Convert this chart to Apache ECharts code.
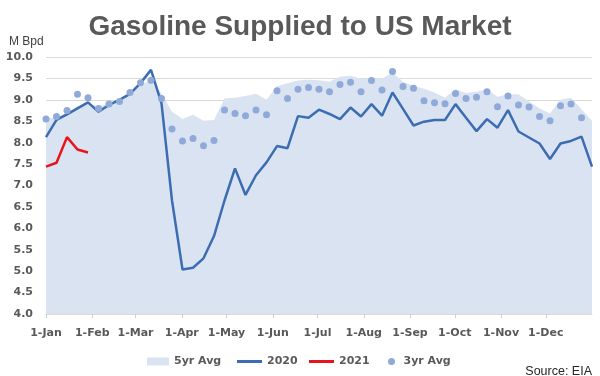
<!DOCTYPE html>
<html>

<head>
	<meta charset="UTF-8">
	<title>Gasoline Supplied to US Market</title>
	<style>
		html, body { margin: 0; padding: 0; background: #fff; }
		#main { width: 600px; height: 376px; }
	</style>
</head>

<body>
	<div id="main"></div>
	<script src="https://cdn.jsdelivr.net/npm/echarts/dist/echarts.min.js"></script>
	<script type="text/javascript">
		// weekly values, M Bpd
		var fiveYrAvg = [8.55, 8.60, 8.70, 8.85, 8.90, 8.85, 8.90, 9.00, 9.15, 9.35,
			9.45, 9.15, 8.72, 8.55, 8.65, 8.51, 8.53, 9.03, 9.05, 9.09,
			9.14, 9.00, 9.32, 9.39, 9.45, 9.47, 9.46, 9.42, 9.54, 9.56,
			9.49, 9.50, 9.49, 9.64, 9.42, 9.33, 9.26, 9.17, 9.05, 9.25,
			9.16, 9.19, 9.25, 9.07, 9.13, 9.13, 8.96, 8.80, 8.68, 9.00,
			9.05, 8.78, 8.51];
		var y2020 = [8.13, 8.53, 8.66, 8.80, 8.94, 8.72, 8.88, 9.00, 9.14, 9.39,
			9.70, 8.92, 6.65, 5.04, 5.08, 5.30, 5.82, 6.65, 7.40, 6.78,
			7.24, 7.54, 7.92, 7.87, 8.62, 8.58, 8.77, 8.67, 8.55, 8.82,
			8.61, 8.90, 8.63, 9.17, 8.79, 8.40, 8.49, 8.53, 8.53, 8.90,
			8.58, 8.27, 8.55, 8.35, 8.76, 8.26, 8.12, 7.98, 7.62, 7.98,
			8.04, 8.14, 7.44];
		var y2021 = [7.44, 7.53, 8.13, 7.84, 7.77];
		var threeYrAvg = [8.55, 8.61, 8.75, 9.13, 9.05, 8.80, 8.90, 8.96, 9.17, 9.40,
			9.46, 9.03, 8.32, 8.04, 8.10, 7.93, 8.05, 8.76, 8.68, 8.63,
			8.76, 8.65, 9.21, 9.03, 9.25, 9.29, 9.25, 9.19, 9.36, 9.41,
			9.19, 9.45, 9.23, 9.66, 9.31, 9.27, 8.98, 8.93, 8.91, 9.15,
			9.03, 9.06, 9.19, 8.84, 9.09, 8.88, 8.83, 8.61, 8.51, 8.86,
			8.90, 8.58];
		// month ticks (day of year) and labels
		var monthDays = [0, 31, 60, 91, 121, 152, 182, 213, 244, 274, 305, 335];
		var monthLabels = ['1-Jan', '1-Feb', '1-Mar', '1-Apr', '1-May', '1-Jun',
			'1-Jul', '1-Aug', '1-Sep', '1-Oct', '1-Nov', '1-Dec'];

		var weeks = 52; // x axis runs in weeks over the year
		var monthTicks = monthDays.map(function (d) { return d * weeks / 366; });

		function toPairs(arr) {
			return arr.map(function (v, i) { return [i, v]; });
		}

		var labelFont = 'DejaVu Sans';
		var grey = '#595959';
		var legendText = { fontFamily: labelFont, fontSize: 11, fontWeight: 'bold', color: grey };

		var myChart = echarts.init(document.getElementById('main'));
		var option = {
			animation: false,
			title: {
				text: 'Gasoline Supplied to US Market',
				left: 'center',
				top: 8,
				textStyle: {
					fontFamily: 'Liberation Sans',
					fontSize: 28,
					fontWeight: 'bold',
					color: grey
				}
			},
			grid: {
				left: 46,
				right: 8,
				top: 57,
				bottom: 62
			},
			xAxis: {
				type: 'value',
				min: 0,
				max: weeks,
				axisLine: { show: true, lineStyle: { color: '#d9d9d9' } },
				axisTick: {
					show: true,
					length: 4,
					customValues: monthTicks,
					lineStyle: { color: '#d0d0d0' }
				},
				splitLine: { show: false },
				axisLabel: {
					customValues: monthTicks,
					margin: 14,
					fontFamily: labelFont,
					fontSize: 11,
					fontWeight: 'bold',
					color: grey,
					formatter: function (v) {
						for (var k = 0; k < monthTicks.length; k++) {
							if (Math.abs(monthTicks[k] - v) < 1e-6) return monthLabels[k];
						}
						return '';
					}
				}
			},
			yAxis: {
				type: 'value',
				min: 4,
				max: 10,
				interval: 0.5,
				axisLine: { show: false },
				axisTick: { show: false },
				splitLine: { lineStyle: { color: '#d9d9d9' } },
				axisLabel: {
					margin: 13,
					fontFamily: labelFont,
					fontSize: 11,
					fontWeight: 'bold',
					color: grey,
					formatter: function (v) { return v.toFixed(1); }
				}
			},
			legend: [{
				data: [{ name: '5yr Avg', icon: 'rect' }],
				left: 147, top: 356, padding: 0,
				itemWidth: 22, itemHeight: 8,
				textStyle: legendText
			}, {
				data: [{ name: '2020', icon: 'rect' }],
				left: 237, top: 356, padding: 0,
				itemWidth: 25, itemHeight: 3,
				textStyle: legendText
			}, {
				data: [{ name: '2021', icon: 'rect' }],
				left: 309, top: 356, padding: 0,
				itemWidth: 25, itemHeight: 3,
				textStyle: legendText
			}, {
				data: [{ name: '3yr Avg', icon: 'circle' }],
				left: 388, top: 356, padding: 0,
				itemWidth: 14, itemHeight: 7,
				textStyle: legendText
			}],
			graphic: [{
				type: 'text',
				left: 9,
				top: 36,
				style: {
					text: 'M Bpd',
					font: '12px "Liberation Sans"',
					fill: '#404040'
				}
			}, {
				type: 'text',
				right: 8,
				top: 365,
				style: {
					text: 'Source: EIA',
					font: '12.5px "Liberation Sans"',
					fill: '#262626'
				}
			}],
			series: [{
				name: '5yr Avg',
				type: 'line',
				data: toPairs(fiveYrAvg),
				symbol: 'none',
				lineStyle: { width: 0 },
				itemStyle: { color: '#dae3f1' },
				areaStyle: { color: '#dae3f1', opacity: 1, origin: 'start' },
				z: 1
			}, {
				name: '2020',
				type: 'line',
				data: toPairs(y2020),
				symbol: 'none',
				lineStyle: { width: 2.5, color: '#3c6db3' },
				itemStyle: { color: '#3c6db3' },
				z: 2
			}, {
				name: '2021',
				type: 'line',
				data: toPairs(y2021),
				symbol: 'none',
				lineStyle: { width: 2.5, color: '#e8141b' },
				itemStyle: { color: '#e8141b' },
				z: 3
			}, {
				name: '3yr Avg',
				type: 'scatter',
				data: toPairs(threeYrAvg),
				symbolSize: 7,
				itemStyle: { color: '#8faad8', opacity: 1 },
				z: 4
			}]
		};
		myChart.setOption(option);
	</script>
</body>

</html>
